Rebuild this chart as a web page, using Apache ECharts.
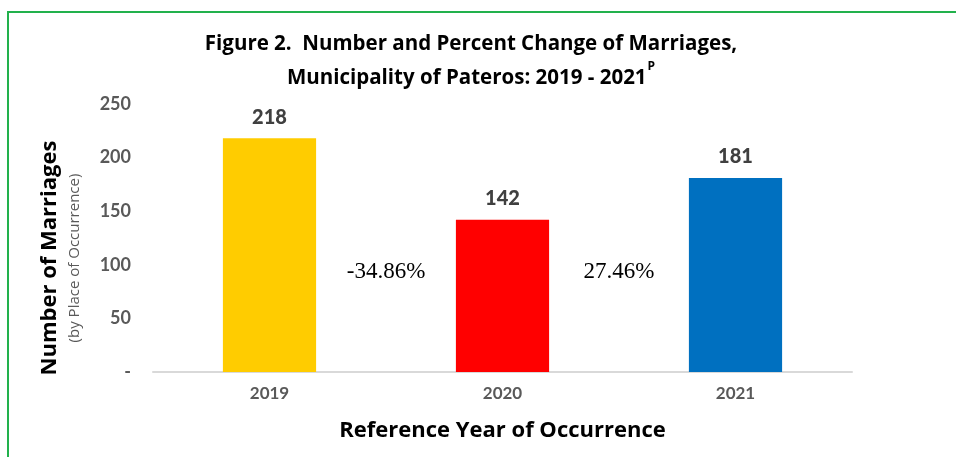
<!DOCTYPE html>
<html>
<head>
    <meta charset="utf-8">
    <title>Figure 2 - Marriages, Pateros</title>
    <script src="https://cdn.jsdelivr.net/npm/echarts@6/dist/echarts.min.js"></script>
    <style>
        html, body { margin: 0; padding: 0; background: #fff; }
    </style>
</head>
<body>
    <div id="main" style="width: 956px;height:457px;"></div>
    <script type="text/javascript">
        // data
        var years = ['2019', '2020', '2021'];
        var marriages = [218, 142, 181];
        var barColors = ['#FFCC00', '#FF0000', '#0070C0'];
        var pctChange = ['-34.86%', '27.46%'];
        var yTicks = [0, 50, 100, 150, 200, 250];

        var myChart = echarts.init(document.getElementById('main'));

        var option = {
            animation: false,
            title: {
                text: '{t|Figure 2.  Number and Percent Change of Marriages,}\n{t|Municipality of Pateros: 2019 - 2021}{sup|P}',
                left: 466,
                textAlign: 'center',
                top: 22,
                textStyle: {
                    rich: {
                        t: { fontFamily: 'Open Sans', fontWeight: 'bold', fontSize: 20.5, color: '#000', lineHeight: 34 },
                        sup: { fontFamily: 'Open Sans', fontWeight: 'bold', fontSize: 12, color: '#000', verticalAlign: 'top', padding: [0, 0, 8, 1] }
                    }
                }
            },
            grid: {
                left: 153,
                right: 104,
                top: 104,
                bottom: 85
            },
            xAxis: {
                type: 'category',
                data: years,
                axisLine: { lineStyle: { color: '#D9D9D9', width: 2 } },
                axisTick: { show: false },
                axisLabel: {
                    color: '#595959',
                    fontFamily: 'Lato',
                    fontWeight: 'bold',
                    fontSize: 17,
                    margin: 13
                },
                name: 'Reference Year of Occurrence',
                nameLocation: 'middle',
                nameGap: 48,
                nameTextStyle: { fontFamily: 'Open Sans', fontWeight: 'bold', fontSize: 22, color: '#000' }
            },
            yAxis: {
                type: 'value',
                min: yTicks[0],
                max: yTicks[yTicks.length - 1],
                interval: 50,
                splitLine: { show: false },
                axisLine: { show: false },
                axisTick: { show: false },
                axisLabel: {
                    color: '#595959',
                    fontFamily: 'Lato',
                    fontWeight: 'bold',
                    fontSize: 18,
                    margin: 22,
                    formatter: function (v) { return v === 0 ? '-' : v; }
                },
                name: '{a|Number of Marriages}\n{b|(by Place of Occurrence)}',
                nameLocation: 'middle',
                nameRotate: 90,
                nameGap: 68,
                nameTextStyle: {
                    padding: [0, 40, 0, 0],
                    rich: {
                        a: { fontFamily: 'Open Sans', fontWeight: 'bold', fontSize: 22, color: '#000', lineHeight: 30 },
                        b: { fontFamily: 'Open Sans', fontSize: 15, color: '#595959', lineHeight: 20 }
                    }
                }
            },
            series: [{
                type: 'bar',
                barWidth: '40%',
                data: marriages.map(function (v, i) {
                    return { value: v, itemStyle: { color: barColors[i] } };
                }),
                label: {
                    show: true,
                    position: 'top',
                    distance: 11,
                    color: '#404040',
                    fontFamily: 'Lato',
                    fontWeight: 900,
                    fontSize: 20
                }
            }]
        };

        myChart.setOption(option);

        // percent change labels between bars + green frame
        var graphics = [{
            type: 'rect',
            shape: { x: 8, y: 12, width: 980, height: 480 },
            style: { fill: 'none', stroke: '#22B14C', lineWidth: 2 },
            silent: true
        }];
        pctChange.forEach(function (txt, i) {
            var p1 = myChart.convertToPixel({ gridIndex: 0 }, [years[i], 93]);
            var p2 = myChart.convertToPixel({ gridIndex: 0 }, [years[i + 1], 93]);
            graphics.push({
                type: 'text',
                x: (p1[0] + p2[0]) / 2,
                y: p1[1],
                style: {
                    text: txt,
                    fontFamily: 'Liberation Serif',
                    fontSize: 23,
                    fill: '#000',
                    align: 'center',
                    verticalAlign: 'middle'
                }
            });
        });
        myChart.setOption({ graphic: graphics });
    </script>
</body>
</html>
